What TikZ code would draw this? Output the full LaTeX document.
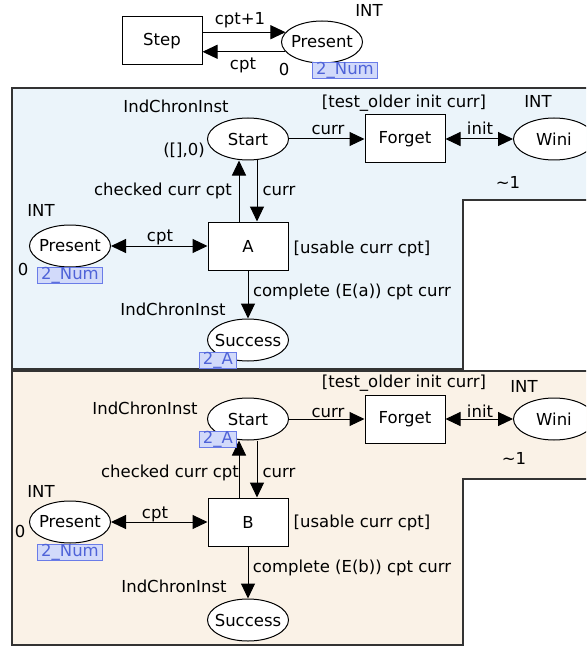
\documentclass[tikz,border=0pt]{standalone}
\usepackage{fontspec}
\setmainfont{DejaVu Sans}
\usetikzlibrary{arrows.meta,shapes.geometric}
\definecolor{zoneblue}{HTML}{EBF4FA}
\definecolor{zonesand}{HTML}{FAF2E7}
\definecolor{tokline}{HTML}{6A7CE8}
\definecolor{tokfill}{HTML}{D2DAFA}
\definecolor{toktext}{HTML}{4F63D8}
\begin{document}
\begin{tikzpicture}[x=1pt,y=-1pt,line width=1pt,>={Triangle[length=15pt,width=14pt]},font=\fontsize{16.5}{19}\selectfont]
\tikzstyle{tr}=[draw,fill=white,minimum width=80pt,minimum height=48pt]
\tikzstyle{pl}=[draw,fill=white,ellipse,minimum width=81pt,minimum height=42pt,inner xsep=-12pt,inner ysep=0pt]
\tikzstyle{lb}=[anchor=base,inner sep=0pt]
\tikzstyle{tok}=[draw=tokline,fill=tokfill,text=toktext,line width=0.8pt,inner xsep=3.5pt,inner ysep=0pt]
\tikzstyle{zone}=[draw=black!80,line width=1.5pt]
\useasboundingbox (0,0) rectangle (586,647);
\clip (0,0) rectangle (586,647);
% zones
\draw[zone,fill=zoneblue] (12,88) -- (600,88) -- (600,200) -- (463,200) -- (463,369) -- (12,369) -- cycle;
\draw[zone,fill=zonesand] (12,371) -- (600,371) -- (600,479) -- (463,479) -- (463,645) -- (12,645) -- cycle;
% top
\node[tr] (step) at (162,41) {Step};
\node[pl] (pres0) at (322,42) {Present};
\draw[->] (step.east |- pres0.165) -- (pres0.165);
\draw[->] (pres0.195) -- (step.east |- pres0.195);
\node[lb] (up0) at (240,25) {cpt+1};
\node[lb] (down0) at (243,70) {cpt};
\node[lb] (type0) at (369,17) {INT};
\node[lb] (init0) at (284,76) {0};
\node[tok] (tok0) at (345,70) {2\_Num};
% first page
\node[pl] (startA) at (248,139) {Start};
\node[tr] (forgetA) at (405,139) {Forget};
\node[pl] (winiA) at (554,139) {Wini};
\node[pl] (presA) at (70,246) {Present};
\node[tr] (transA) at (248,246) {A};
\node[pl] (succA) at (248,340) {Success};
\draw[->] (startA) -- (forgetA);
\draw[<->] (forgetA) -- (winiA);
\draw[->] ([xshift=-9pt]transA.north) -- ([xshift=-9pt]startA.south);
\draw[->] ([xshift=9pt]startA.south) -- ([xshift=9pt]transA.north);
\draw[<->] (presA) -- (transA);
\draw[->] (transA) -- (succA);
\node[lb] (typeA1) at (176,113) {IndChronInst};
\node[lb] (initA1) at (184,156) {([],0)};
\node[lb] (guardA1) at (404,108) {[test\_older init curr]};
\node[lb] (typeA2) at (538,108) {INT};
\node[lb] (currA1) at (328,135) {curr};
\node[lb] (initA) at (480,135) {init};
\node[lb] (prioA) at (508,189) {\textasciitilde1};
\node[lb] (checkA) at (163,195) {checked curr cpt};
\node[lb] (currA2) at (279,195) {curr};
\node[lb] (typeA3) at (41,216) {INT};
\node[lb] (initA3) at (23,275) {0};
\node[tok] (tokA1) at (70,275) {2\_Num};
\node[lb] (cptA) at (160,241) {cpt};
\node[lb] (guardA2) at (362,253) {[usable curr cpt]};
\node[lb] (outA) at (352,296) {complete (E(a)) cpt curr};
\node[lb] (typeA4) at (173,315) {IndChronInst};
\node[tok] (tokA2) at (218,360) {2\_A};
% second page
\node[pl] (startB) at (248,419) {Start};
\node[tr] (forgetB) at (405,419) {Forget};
\node[pl] (winiB) at (554,419) {Wini};
\node[pl] (presB) at (70,522) {Present};
\node[tr] (transB) at (248,522) {B};
\node[pl] (succB) at (248,620) {Success};
\draw[->] (startB) -- (forgetB);
\draw[<->] (forgetB) -- (winiB);
\draw[->] ([xshift=-9pt]transB.north) -- ([xshift=-9pt]startB.south);
\draw[->] ([xshift=9pt]startB.south) -- ([xshift=9pt]transB.north);
\draw[<->] (presB) -- (transB);
\draw[->] (transB) -- (succB);
\node[lb] (guardB1) at (404,387) {[test\_older init curr]};
\node[lb] (typeB2) at (524,392) {INT};
\node[lb] (typeB1) at (145,414) {IndChronInst};
\node[tok] (tokB2) at (218,439) {2\_A};
\node[lb] (currB1) at (328,417) {curr};
\node[lb] (initB) at (480,417) {init};
\node[lb] (prioB) at (514,464) {\textasciitilde1};
\node[lb] (checkB) at (170,477) {checked curr cpt};
\node[lb] (currB2) at (279,477) {curr};
\node[lb] (typeB3) at (41,497) {INT};
\node[lb] (initB3) at (20,537) {0};
\node[tok] (tokB1) at (70,552) {2\_Num};
\node[lb] (cptB) at (155,518) {cpt};
\node[lb] (guardB2) at (362,527) {[usable curr cpt]};
\node[lb] (outB) at (352,572) {complete (E(b)) cpt curr};
\node[lb] (typeB4) at (174,592) {IndChronInst};
\end{tikzpicture}
\end{document}
